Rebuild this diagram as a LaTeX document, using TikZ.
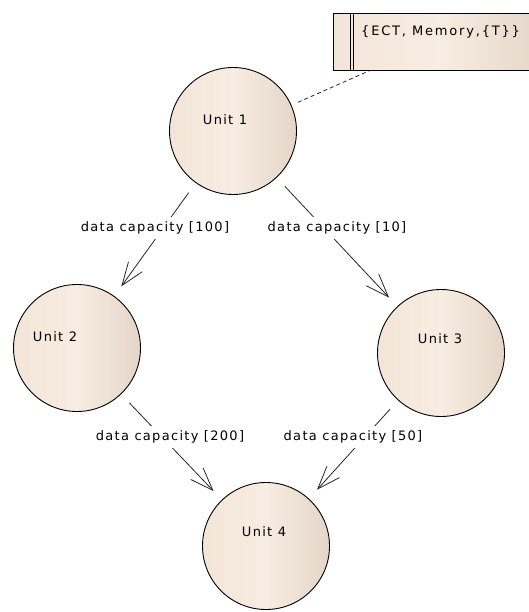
\documentclass[tikz,border=0pt]{standalone}
\usepackage{fontspec}
\newfontfamily\eafont[LetterSpace=10]{DejaVu Sans}
\newfontfamily\eanotefont[LetterSpace=14]{DejaVu Sans}
\usetikzlibrary{arrows.meta}
\definecolor{unitLeft}{RGB}{243,229,216}
\definecolor{unitMid}{RGB}{248,237,226}
\definecolor{unitRight}{RGB}{228,213,200}
\definecolor{shadowGray}{RGB}{180,186,192}
\tikzset{
  unit/.style={circle, draw=black, line width=0.9pt, minimum size=127pt, inner sep=0pt,
    left color=unitLeft, right color=unitRight, middle color=unitMid},
  eatext/.style={font=\eafont\fontsize{13}{15}\selectfont, text=black},
  unitname/.style={eatext, inner sep=0pt},
  flow/.style={line width=0.8pt, draw=black!85,
    -{Straight Barb[length=23pt,width=17pt,line width=0.8pt]},
    shorten <=12pt, shorten >=12pt},
  flowlabel/.style={eatext, fill=white, inner sep=5pt},
  notebox/.style={draw=black, line width=0.9pt, minimum width=212pt, minimum height=57pt,
    inner sep=0pt, left color=unitLeft, right color=unitRight, middle color=unitMid},
  notelink/.style={line width=0.8pt, draw=black!85, dash pattern=on 4pt off 3pt, shorten <=7pt}
}
\begin{document}
\begin{tikzpicture}[x=1pt, y=-1pt]
  \useasboundingbox (0,0) rectangle (529,612);

  % deployment units
  \node[unit] (u1) at (233,131) {};
  \node[unit] (u2) at (77,348) {};
  \node[unit] (u3) at (441,353) {};
  \node[unit] (u4) at (266,546) {};

  \node[unitname] (u1name) at (225,120) {Unit 1};
  \node[unitname] (u2name) at (55,337) {Unit 2};
  \node[unitname] (u3name) at (440,339) {Unit 3};
  \node[unitname] (u4name) at (264,532) {Unit 4};

  % note attached to Unit 1
  \node[notebox, anchor=north west] (note) at (333,13) {};
  \fill[shadowGray] ([xshift=4pt]note.south west) rectangle ([yshift=5pt]note.south east);
  \node[notebox, anchor=north west] (notebody) at (333,13) {};
  \draw[line width=0.9pt] ([xshift=17pt]notebody.north west) -- ([xshift=17pt]notebody.south west);
  \draw[line width=0.9pt] ([xshift=20pt]notebody.north west) -- ([xshift=20pt]notebody.south west);
  \node[eatext, font=\eanotefont\fontsize{13}{15}\selectfont, anchor=west, inner sep=0pt]
    (notetext) at (361,32) {\{ECT, Memory,\{T\}\}};
  \coordinate (notefoot) at ([xshift=36pt]notebody.south west);
  \draw[notelink] (u1) -- (notefoot);

  % data flows
  \draw[flow] (u1) -- (u2);
  \draw[flow] (u1) -- (u3);
  \draw[flow] (u2) -- (u4);
  \draw[flow] (u3) -- (u4);

  \node[flowlabel] (l12) at (155,228) {data capacity [100]};
  \node[flowlabel] (l13) at (337,228) {data capacity [10]};
  \node[flowlabel] (l24) at (170,437) {data capacity [200]};
  \node[flowlabel] (l34) at (353,437) {data capacity [50]};
\end{tikzpicture}
\end{document}
